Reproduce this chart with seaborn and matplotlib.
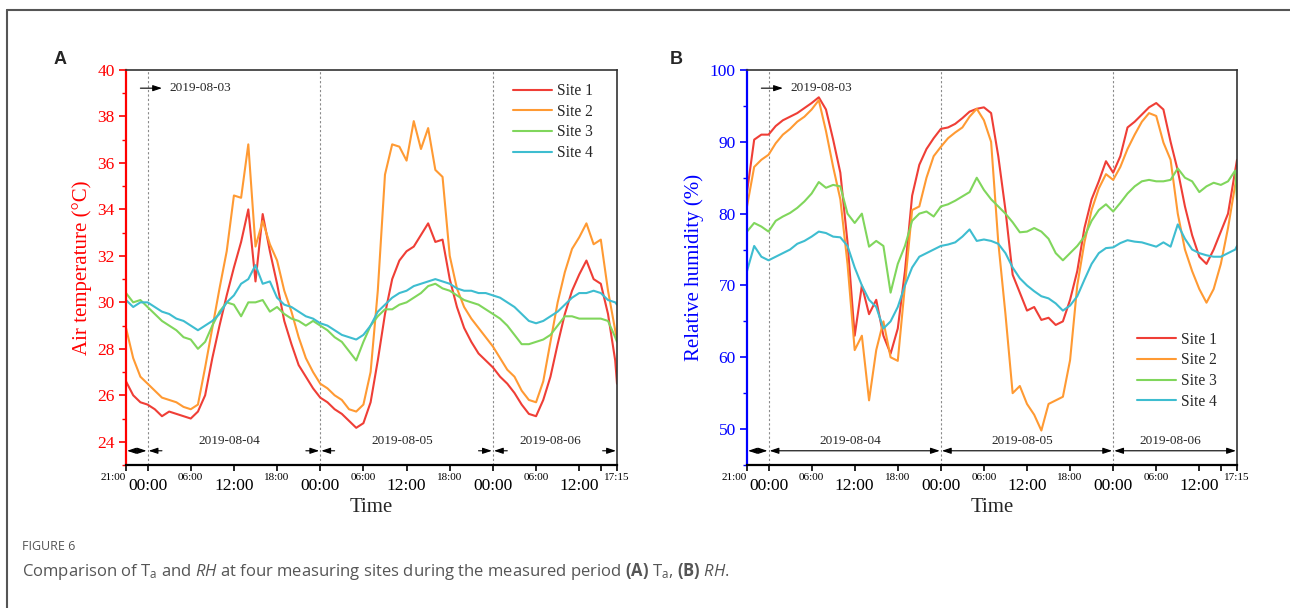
import numpy as np
import pandas as pd
import matplotlib
matplotlib.use("Agg")
import matplotlib.pyplot as plt
import matplotlib.ticker as mticker
import matplotlib.transforms as mtransforms
from matplotlib.lines import Line2D
import seaborn as sns

# hours counted from 2019-08-03 21:00, hourly readings up to 2019-08-06 17:15
hours = list(range(69)) + [68.25]
sites = ["Site 1", "Site 2", "Site 3", "Site 4"]
site_colors = ["#ef3e36", "#ff9a33", "#80d65c", "#3ebdd0"]

# Air temperature (deg C)
ta_site1 = [26.6, 26.0, 25.7, 25.6, 25.4, 25.1, 25.3, 25.2, 25.1, 25.0,
            25.3, 26.0, 27.6, 29.0, 30.3, 31.5, 32.6, 34.0, 30.9, 33.8,
            32.2, 30.8, 29.2, 28.2, 27.3, 26.8, 26.3, 25.9, 25.7, 25.4,
            25.2, 24.9, 24.6, 24.8, 25.7, 27.5, 29.5, 31.0, 31.8, 32.2,
            32.4, 32.9, 33.4, 32.6, 32.7, 31.0, 29.8, 28.9, 28.3, 27.8,
            27.5, 27.2, 26.8, 26.5, 26.1, 25.6, 25.2, 25.1, 25.8, 26.8,
            28.2, 29.5, 30.5, 31.2, 31.8, 31.0, 30.8, 29.5, 27.5, 26.5]
ta_site2 = [28.9, 27.6, 26.8, 26.5, 26.2, 25.9, 25.8, 25.7, 25.5, 25.4,
            25.6, 27.2, 28.9, 30.6, 32.2, 34.6, 34.5, 36.8, 32.4, 33.5,
            32.5, 31.8, 30.5, 29.6, 28.5, 27.6, 27.0, 26.5, 26.3, 26.0,
            25.8, 25.4, 25.3, 25.6, 27.0, 30.5, 35.5, 36.8, 36.7, 36.1,
            37.8, 36.6, 37.5, 35.7, 35.4, 32.0, 30.6, 29.8, 29.3, 28.9,
            28.5, 28.1, 27.6, 27.1, 26.8, 26.2, 25.8, 25.7, 26.6, 28.3,
            30.0, 31.3, 32.3, 32.8, 33.4, 32.5, 32.7, 30.5, 28.8, 28.4]
ta_site3 = [30.4, 30.0, 30.1, 29.8, 29.5, 29.2, 29.0, 28.8, 28.5, 28.4,
            28.0, 28.3, 29.0, 29.6, 30.0, 29.9, 29.4, 30.0, 30.0, 30.1,
            29.6, 29.8, 29.5, 29.3, 29.2, 29.0, 29.2, 29.0, 28.8, 28.5,
            28.3, 27.9, 27.5, 28.3, 29.0, 29.4, 29.7, 29.7, 29.9, 30.0,
            30.2, 30.4, 30.7, 30.8, 30.6, 30.5, 30.3, 30.1, 30.0, 29.9,
            29.7, 29.5, 29.3, 29.0, 28.6, 28.2, 28.2, 28.3, 28.4, 28.6,
            29.0, 29.4, 29.4, 29.3, 29.3, 29.3, 29.3, 29.2, 28.5, 28.3]
ta_site4 = [30.1, 29.8, 30.0, 30.0, 29.8, 29.6, 29.5, 29.3, 29.2, 29.0,
            28.8, 29.0, 29.2, 29.5, 30.0, 30.3, 30.8, 31.0, 31.6, 30.8,
            30.9, 30.2, 29.9, 29.8, 29.6, 29.4, 29.3, 29.1, 29.0, 28.8,
            28.6, 28.5, 28.4, 28.6, 29.0, 29.6, 29.9, 30.2, 30.4, 30.5,
            30.7, 30.8, 30.9, 31.0, 30.9, 30.8, 30.6, 30.5, 30.5, 30.4,
            30.4, 30.3, 30.2, 30.0, 29.8, 29.5, 29.2, 29.1, 29.2, 29.4,
            29.6, 29.9, 30.2, 30.4, 30.4, 30.5, 30.4, 30.1, 30.0, 29.9]

# Relative humidity (%)
rh_site1 = [83.0, 90.3, 91.0, 91.0, 92.2, 93.0, 93.5, 94.0, 94.7, 95.4,
            96.2, 94.5, 90.3, 85.7, 76.0, 63.0, 70.0, 66.0, 68.0, 63.0,
            60.5, 64.0, 72.0, 82.5, 86.8, 89.0, 90.5, 91.8, 92.0, 92.5,
            93.3, 94.2, 94.6, 94.8, 94.0, 88.0, 80.5, 71.5, 69.0, 66.5,
            67.0, 65.2, 65.5, 64.5, 65.0, 68.0, 72.0, 78.0, 82.0, 84.5,
            87.3, 85.7, 88.0, 92.0, 92.8, 93.8, 94.8, 95.4, 94.5, 90.0,
            86.0, 81.0, 77.0, 74.0, 73.0, 75.0, 77.5, 80.0, 86.0, 87.5]
rh_site2 = [81.0, 86.5, 87.5, 88.2, 89.8, 91.0, 91.8, 92.8, 93.5, 94.5,
            95.8, 91.5, 86.5, 82.0, 73.0, 61.0, 63.0, 54.0, 61.0, 65.0,
            60.0, 59.5, 70.0, 80.5, 81.0, 85.0, 88.0, 89.3, 90.5, 91.3,
            92.0, 93.5, 94.6, 93.0, 90.0, 76.0, 66.0, 55.0, 56.0, 53.5,
            52.0, 49.8, 53.5, 54.0, 54.5, 59.6, 70.0, 76.0, 80.5, 83.5,
            85.5, 84.7, 86.5, 89.0, 91.0, 92.8, 94.0, 93.6, 89.9, 87.5,
            80.0, 75.0, 72.0, 69.5, 67.6, 69.5, 73.0, 78.0, 84.0, 85.5]
rh_site3 = [77.5, 78.7, 78.2, 77.5, 79.0, 79.6, 80.1, 80.8, 81.7, 82.8,
            84.4, 83.6, 84.0, 83.8, 80.0, 78.7, 80.0, 75.4, 76.2, 75.5,
            69.0, 73.0, 75.5, 79.0, 80.0, 80.3, 79.6, 81.0, 81.3, 81.8,
            82.4, 83.0, 85.0, 83.3, 82.0, 81.0, 80.0, 78.8, 77.4, 77.5,
            78.0, 77.5, 76.5, 74.5, 73.5, 74.5, 75.5, 76.8, 79.0, 80.5,
            81.3, 80.3, 81.5, 82.8, 83.8, 84.5, 84.7, 84.5, 84.5, 84.7,
            86.3, 85.0, 84.5, 83.0, 83.8, 84.3, 84.0, 84.5, 86.0, 82.0]
rh_site4 = [72.0, 75.5, 74.0, 73.5, 74.0, 74.5, 75.0, 75.8, 76.2, 76.8,
            77.5, 77.3, 76.8, 76.7, 75.5, 72.5, 70.0, 68.0, 67.0, 64.0,
            65.0, 67.0, 70.0, 72.5, 74.0, 74.5, 75.0, 75.5, 75.7, 76.0,
            76.8, 77.8, 76.2, 76.4, 76.2, 75.8, 74.5, 72.5, 71.0, 70.0,
            69.2, 68.5, 68.2, 67.5, 66.5, 67.2, 68.5, 70.8, 73.0, 74.5,
            75.2, 75.3, 75.9, 76.3, 76.1, 76.0, 75.7, 75.4, 76.0, 75.4,
            78.5, 76.5, 75.0, 74.5, 74.2, 74.0, 74.0, 74.5, 75.0, 75.5]

# time axis: big labels at midnight / noon, small ones elsewhere
major_pos = [3, 15, 27, 39, 51, 63]
major_lab = ["00:00", "12:00", "00:00", "12:00", "00:00", "12:00"]
minor_pos = [0, 9, 21, 33, 45, 57, 66, 68.25]
minor_lab = ["21:00", "06:00", "18:00", "06:00", "18:00", "06:00", "", "17:15"]
midnights = [3, 27, 51]
day_segments = [(0, 3), (3, 27), (27, 51), (51, 68.25)]
day_names = ["2019-08-04", "2019-08-05", "2019-08-06"]

sns.set_theme(style="ticks")
plt.rcParams["font.family"] = ["Liberation Serif", "DejaVu Serif"]
plt.rcParams["mathtext.fontset"] = "custom"
plt.rcParams["mathtext.rm"] = "Open Sans"
plt.rcParams["mathtext.it"] = "Open Sans:italic"
plt.rcParams["mathtext.bf"] = "Open Sans:bold"

palette = dict(zip(sites, site_colors))


def long_frame(series):
    parts = [pd.DataFrame({"hour": hours, "value": vals, "site": name})
             for name, vals in zip(sites, series)]
    return pd.concat(parts, ignore_index=True)


def arrow(ax, x0, x1, y, style):
    ax.annotate("", xy=(x1, y), xytext=(x0, y),
                xycoords=("data", "axes fraction"),
                arrowprops=dict(arrowstyle=style, color="black", lw=0.8,
                                shrinkA=0, shrinkB=0, mutation_scale=9))


def draw_panel(ax, series, ylim, major_step, minor_step, ylabel, axis_color,
               legend_loc, legend_anchor, full_arrows):
    df = long_frame(series)
    sns.lineplot(data=df, x="hour", y="value", hue="site", palette=palette,
                 linewidth=1.5, estimator=None, ax=ax)

    ax.set_xlim(0, 68.25)
    ax.set_ylim(*ylim)
    ax.yaxis.set_major_locator(mticker.MultipleLocator(major_step))
    ax.yaxis.set_minor_locator(mticker.MultipleLocator(minor_step))
    ax.set_xticks(major_pos, major_lab)
    ax.set_xticks(minor_pos, minor_lab, minor=True)

    ax.tick_params(axis="y", which="major", colors=axis_color, length=5,
                   width=1.2, labelsize=12.5, pad=3)
    ax.tick_params(axis="y", which="minor", colors=axis_color, length=3,
                   width=1.0)
    ax.tick_params(axis="x", which="both", length=4.5, width=1.2, colors="black")
    ax.tick_params(axis="x", which="major", labelsize=12.5, pad=5)
    ax.tick_params(axis="x", which="minor", labelsize=8, pad=1.5)
    for lbl in ax.get_xticklabels(minor=True):
        if lbl.get_text() == "21:00":
            lbl.set_ha("right")

    ax.spines["left"].set_color(axis_color)
    ax.spines["left"].set_linewidth(1.6)
    ax.spines["bottom"].set_color("black")
    ax.spines["bottom"].set_linewidth(1.6)
    for side in ["top", "right"]:
        ax.spines[side].set_color("#333333")
        ax.spines[side].set_linewidth(1.2)

    ax.set_xlabel("Time", fontsize=15, labelpad=3)
    ax.set_ylabel(ylabel, color=axis_color, fontsize=15, labelpad=4)

    for m in midnights:
        ax.axvline(m, color="#8a8a8a", ls=(0, (2, 2)), lw=0.8, zorder=0)

    trans = mtransforms.blended_transform_factory(ax.transData, ax.transAxes)

    # start marker
    arrow(ax, 2.0, 5.0, 0.954, "-|>,head_length=0.6,head_width=0.2")
    ax.text(6.0, 0.954, "2019-08-03", fontsize=9.5, va="center", transform=trans)

    # day spans along the bottom
    y_arr = 0.036
    for i, (a, b) in enumerate(day_segments):
        if full_arrows or b - a < 5:
            arrow(ax, a + 0.15, b - 0.15, y_arr,
                  "<|-|>,head_length=0.6,head_width=0.2")
        else:
            arrow(ax, a + 2.0, a + 0.15, y_arr, "-|>,head_length=0.6,head_width=0.2")
            arrow(ax, b - 2.0, b - 0.15, y_arr, "-|>,head_length=0.6,head_width=0.2")
        if 0 < i <= len(day_names):
            ax.text((a + b) / 2 - 0.6, 0.062, day_names[i - 1], fontsize=9.5,
                    ha="center", va="center", transform=trans)

    handles, labels = ax.get_legend_handles_labels()
    ax.legend(handles, labels, loc=legend_loc, bbox_to_anchor=legend_anchor,
              frameon=False, fontsize=11.2, handlelength=2.5,
              handletextpad=0.35, labelspacing=0.3, borderpad=0,
              borderaxespad=0)


fig = plt.figure(figsize=(12.9, 6.08), dpi=100)
ax_a = fig.add_axes([126 / 1290, 1 - 465 / 608, 491 / 1290, 395 / 608])
ax_b = fig.add_axes([747 / 1290, 1 - 465 / 608, 490 / 1290, 395 / 608])

draw_panel(ax_a, [ta_site1, ta_site2, ta_site3, ta_site4], (23, 40), 2, 1,
           "Air temperature (\u00b0C)", "#ff0000", "upper left",
           (0.788, 0.967), full_arrows=False)
draw_panel(ax_b, [rh_site1, rh_site2, rh_site3, rh_site4], (45, 100), 10, 5,
           "Relative humidity (%)", "#0000ff", "lower left",
           (0.796, 0.14), full_arrows=True)

# panel letters
fig.text(60 / 1290, 1 - 60 / 608, "A", fontsize=13, fontweight="bold",
         family="Liberation Sans", ha="center", va="center")
fig.text(676 / 1290, 1 - 60 / 608, "B", fontsize=13, fontweight="bold",
         family="Liberation Sans", ha="center", va="center")

# caption
fig.text(22 / 1290, 1 - 547 / 608, "FIGURE 6", fontsize=9, color="#555555",
         family="Open Sans", va="center")
fig.text(22 / 1290, 1 - 571 / 608,
         r"Comparison of $\mathrm{T_a}$ and $\mathit{RH}$ at four measuring sites "
         r"during the measured period $\mathbf{(A)}$ $\mathrm{T_a}$, $\mathbf{(B)}$ $\mathit{RH}$.",
         fontsize=12, color="#555555", family="Open Sans", va="center")

# outer frame
fig.add_artist(Line2D([7 / 1290, 1], [1 - 10 / 608, 1 - 10 / 608],
                      transform=fig.transFigure, color="#555555", lw=1.5))
fig.add_artist(Line2D([7 / 1290, 7 / 1290], [0, 1 - 10 / 608],
                      transform=fig.transFigure, color="#555555", lw=1.5))

fig.savefig("out.png", dpi=100)
